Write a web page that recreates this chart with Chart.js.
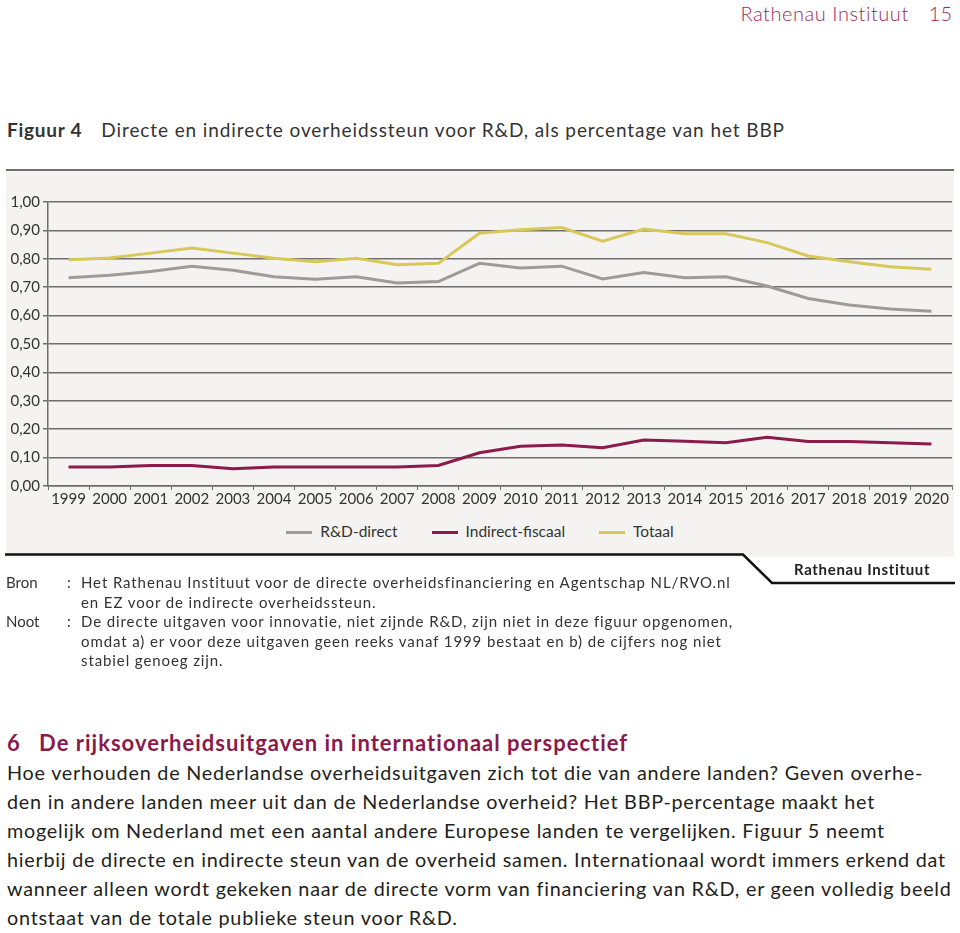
<!DOCTYPE html>
<html lang="nl">
<head>
<meta charset="utf-8">
<script src="https://cdn.jsdelivr.net/npm/chart.js@4"></script>
<style>
  html, body { margin: 0; padding: 0; background: #fff; }
  body { width: 960px; height: 933px; position: relative; overflow: hidden;
         font-family: Lato, "Noto Sans", sans-serif; color: #231f20; }
  .abs { position: absolute; white-space: nowrap; }
  .kop { right: 8px; top: 1px; font-size: 20px; color: #9b2a5c; font-weight: 300; }
  .kop em { font-style: normal; letter-spacing: 0.55px; }
  .kop span { margin-left: 20px; }
  .titel { left: 7px; top: 118px; font-size: 19px; color: #333; letter-spacing: 0.9px; }
  .titel b { margin-right: 19px; letter-spacing: 0.75px; }
  .paneel { left: 6px; top: 169px; width: 948px; height: 386px; background: #f4f3f1;
            border-top: 2px solid #707070; }
  .legenda { top: 522px; left: 0; width: 960px; text-align: center; font-size: 15.5px; color: #333; }
  .legenda i { display: inline-block; width: 26px; height: 3px; vertical-align: middle;
               margin: 0 8px 0 0; position: relative; top: -1px; }
  .legenda span { margin: 0 17px; }
  .merk { left: 794px; top: 560px; font-size: 15px; font-weight: 700; color: #222; letter-spacing: 0.67px; }
  .bron { left: 6px; top: 573px; font-size: 15px; line-height: 19.6px; color: #333; }
  .bron td { padding: 0; vertical-align: top; }
  .bron td.t { letter-spacing: 0.9px; }
  .sectie { left: 7px; top: 729px; font-size: 22px; font-weight: 700; color: #8b1a4b; letter-spacing: 1px; }
  .sectie span { margin-right: 12px; }
  .tekst { left: 7px; top: 758px; font-size: 19.8px; line-height: 29.1px; color: #231f20; letter-spacing: 0.77px; }
  #grafiek { position: absolute; left: 0; top: 190px; }
</style>
</head>
<body>
<div class="abs kop"><em>Rathenau Instituut</em><span>15</span></div>
<div class="abs titel"><b>Figuur 4</b>Directe en indirecte overheidssteun voor R&amp;D, als percentage van het BBP</div>
<div class="abs paneel"></div>
<canvas id="grafiek" width="960" height="320"></canvas>
<div class="abs legenda" id="legenda"></div>
<svg class="abs" style="left:0;top:0" width="960" height="600">
  <polyline points="5,554.5 743,554.5 772,583 955,583" fill="none" stroke="#111" stroke-width="2.5"/>
</svg>
<div class="abs merk">Rathenau Instituut</div>
<div class="abs bron">
  <table cellspacing="0">
    <tr><td style="width:61px">Bron</td><td style="width:14px">:</td><td class="t">Het Rathenau Instituut voor de directe overheidsfinanciering en Agentschap NL/RVO.nl<br>en EZ voor de indirecte overheidssteun.</td></tr>
    <tr><td>Noot</td><td>:</td><td class="t">De directe uitgaven voor innovatie, niet zijnde R&amp;D, zijn niet in deze figuur opgenomen,<br>omdat a) er voor deze uitgaven geen reeks vanaf 1999 bestaat en b) de cijfers nog niet<br>stabiel genoeg zijn.</td></tr>
  </table>
</div>
<div class="abs sectie"><span>6</span> De rijksoverheidsuitgaven in internationaal perspectief</div>
<div class="abs tekst">
  Hoe verhouden de Nederlandse overheidsuitgaven zich tot die van andere landen? Geven overhe-<br>
  den in andere landen meer uit dan de Nederlandse overheid? Het BBP-percentage maakt het<br>
  mogelijk om Nederland met een aantal andere Europese landen te vergelijken. Figuur 5 neemt<br>
  hierbij de directe en indirecte steun van de overheid samen. Internationaal wordt immers erkend dat<br>
  wanneer alleen wordt gekeken naar de directe vorm van financiering van R&amp;D, er geen volledig beeld<br>
  ontstaat van de totale publieke steun voor R&amp;D.
</div>

<script>
// ── Gegevens ────────────────────────────────────────────────────────────────
const jaren = ['1999','2000','2001','2002','2003','2004','2005','2006','2007','2008','2009',
               '2010','2011','2012','2013','2014','2015','2016','2017','2018','2019','2020'];

const rdDirect = [0.733, 0.742, 0.755, 0.774, 0.760, 0.737, 0.728, 0.737, 0.715, 0.720, 0.784,
                  0.768, 0.774, 0.729, 0.752, 0.733, 0.737, 0.704, 0.660, 0.637, 0.623, 0.615];

const indirectFiscaal = [0.067, 0.067, 0.072, 0.072, 0.061, 0.067, 0.067, 0.067, 0.067, 0.072, 0.117,
                         0.140, 0.144, 0.135, 0.162, 0.158, 0.152, 0.172, 0.157, 0.157, 0.152, 0.148];

const totaal = [0.797, 0.803, 0.820, 0.838, 0.820, 0.802, 0.790, 0.802, 0.779, 0.784, 0.890,
                0.902, 0.910, 0.862, 0.905, 0.888, 0.888, 0.857, 0.810, 0.790, 0.772, 0.763];

const yLabels = ['0,00','0,10','0,20','0,30','0,40','0,50','0,60','0,70','0,80','0,90','1,00'];

const reeksen = [
  { label: 'R&D-direct',       data: rdDirect,        kleur: '#a09b96' },
  { label: 'Indirect-fiscaal', data: indirectFiscaal, kleur: '#8c1a4a' },
  { label: 'Totaal',           data: totaal,          kleur: '#d8c85a' }
];

// ── Legenda ─────────────────────────────────────────────────────────────────
document.getElementById('legenda').innerHTML = reeksen
  .map(r => `<span><i style="background:${r.kleur}"></i>${r.label.replace('&','&amp;')}</span>`)
  .join('');

// ── Grafiek ─────────────────────────────────────────────────────────────────
const lijnKleur = '#6e6e6e';
const tekstFont = { family: 'Lato, "Noto Sans", sans-serif', size: 15 };

new Chart(document.getElementById('grafiek'), {
  type: 'line',
  data: {
    labels: jaren,
    datasets: reeksen.map(r => ({
      label: r.label, data: r.data,
      borderColor: r.kleur, backgroundColor: r.kleur,
      borderWidth: 3, pointRadius: 0, tension: 0, fill: false
    }))
  },
  options: {
    responsive: false, animation: false,
    layout: { padding: { top: 12, right: 8, left: 0, bottom: 0 } },
    plugins: { legend: { display: false }, tooltip: { enabled: false } },
    scales: {
      x: {
        offset: true,
        grid: { display: true, drawOnChartArea: false, drawTicks: true, tickLength: 4,
                color: lijnKleur, offset: true },
        border: { display: true, color: lijnKleur, width: 1.5 },
        ticks: { color: '#333', font: tekstFont, padding: 0, maxRotation: 0, autoSkip: false },
        afterFit: s => { s.height = 24; }
      },
      y: {
        min: 0, max: 1,
        grid: { color: lijnKleur, lineWidth: 1.5, tickLength: 5, drawTicks: true },
        border: { display: true, color: lijnKleur, width: 1.5 },
        ticks: { stepSize: 0.1, color: '#333', font: tekstFont, padding: 3,
                 callback: (v, i) => yLabels[i] },
        afterFit: s => { s.width = 48; }
      }
    }
  }
});
</script>
</body>
</html>
